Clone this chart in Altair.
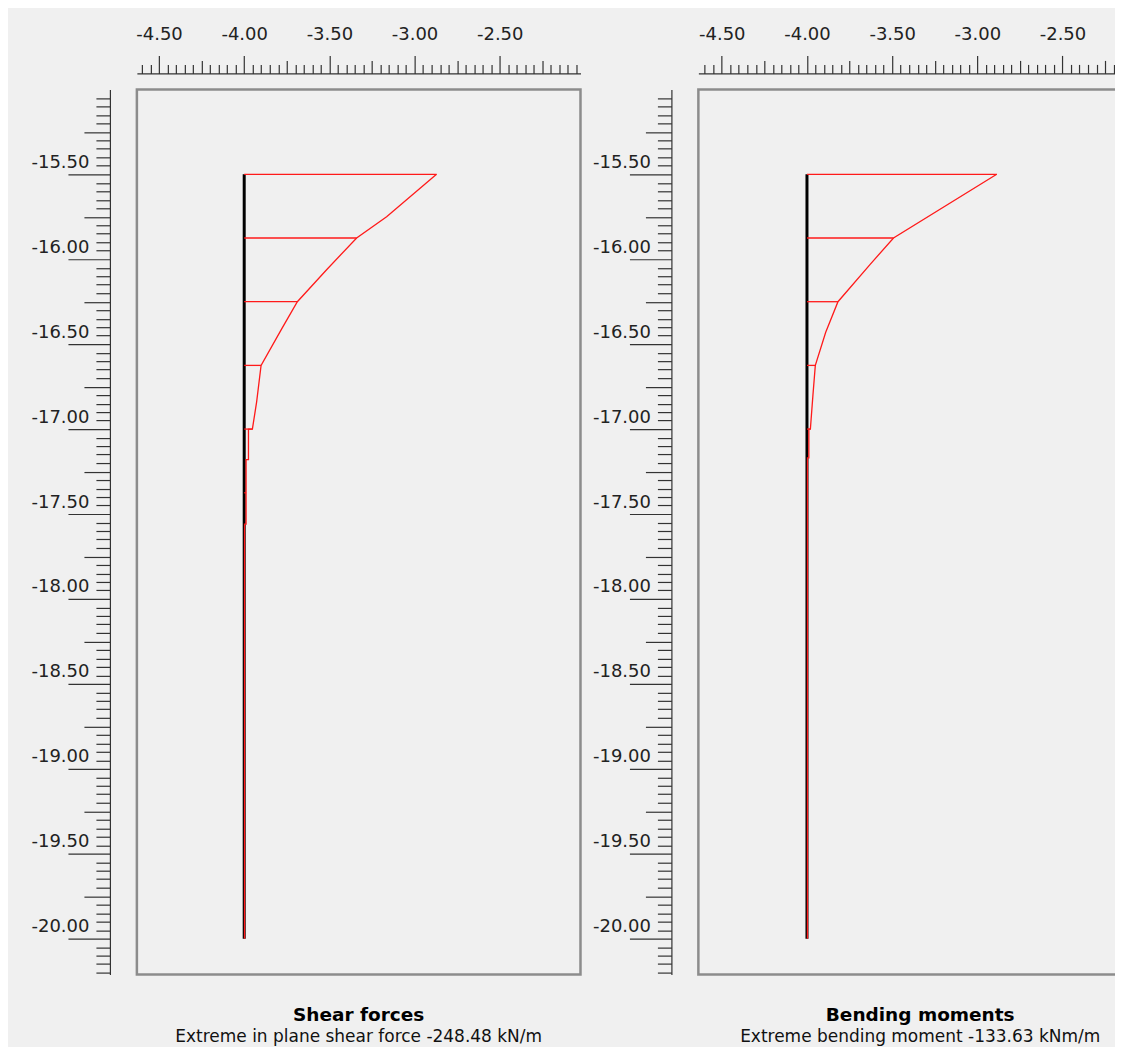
import altair as alt
import pandas as pd

# ---------------- data ----------------
# plate (structure) line
plate_x = [-4.00]
plate_top = [-15.50]
plate_bottom = [-20.00]

# Shear forces diagram (left panel)
shear_curve_y = [-15.50, -15.75, -15.875, -16.06, -16.25, -16.41, -16.625, -16.84, -17.00,
                 -17.00, -17.18, -17.18, -17.56, -17.56, -20.00]
shear_curve_x = [-2.871, -3.164, -3.340, -3.515, -3.688, -3.780, -3.901, -3.927, -3.952,
                 -3.975, -3.975, -3.989, -3.989, -3.998, -3.998]
shear_hatch_y = [-15.50, -15.875, -16.25, -16.625, -17.00, -17.375]
shear_hatch_x = [-2.871, -3.340, -3.688, -3.901, -3.952, -3.989]

# Bending moments diagram (right panel)
moment_curve_y = [-15.50, -15.875, -16.03, -16.25, -16.43, -16.625, -16.80, -17.00,
                  -17.00, -17.17, -17.17, -20.00]
moment_curve_x = [-2.886, -3.492, -3.629, -3.818, -3.890, -3.951, -3.965, -3.980,
                  -3.989, -3.989, -3.997, -3.997]
moment_hatch_y = [-15.50, -15.875, -16.25, -16.625, -17.00]
moment_hatch_x = [-2.886, -3.492, -3.818, -3.951, -3.980]

# axis rulers
x_ticks_left = [round(-4.60 + 0.05 * i, 2) for i in range(52)]    # -4.60 .. -2.05
x_ticks_right = [round(-4.60 + 0.05 * i, 2) for i in range(52)]   # -4.60 .. -2.05
y_ticks = [round(-15.05 - 0.05 * i, 2) for i in range(104)]       # -15.05 .. -20.20

titles = ["Shear forces", "Bending moments"]
subtitles = ["Extreme in plane shear force -248.48 kN/m",
             "Extreme bending moment -133.63  kNm/m"]

# ---------------- styling ----------------
FONT = "DejaVu Sans"
BG = "#f0f0f0"
MAJOR = "abs(round(datum.value*100)) % 50 == 0"
MEDIUM = "abs(round(datum.value*100)) % 25 == 0"
LABEL = ("%s ? (datum.value < 0 ? '-' : '') + format(abs(datum.value), '.2f') : ''" % MAJOR)

HEIGHT = 886
Y_DOMAIN = [-15.0 - HEIGHT / 170.0, -15.0]


def x_axis(values):
    return alt.Axis(
        orient="top", values=values, tickCount=500, offset=16, grid=False,
        domainColor="#333333", domainWidth=1.2,
        tickColor="#333333", tickWidth=1.2,
        tickSize={"condition": [{"test": MAJOR, "value": 18},
                                {"test": MEDIUM, "value": 13}], "value": 9},
        labelExpr=LABEL, labelFont=FONT, labelFontSize=18, labelColor="#222222",
        labelPadding=12, labelOverlap=False, labelFlush=False, labelBound=False,
        title=None,
    )


def y_axis():
    return alt.Axis(
        orient="left", values=y_ticks, tickCount=500, offset=27, grid=False,
        domainColor="#333333", domainWidth=1.2,
        tickColor="#333333", tickWidth=1.2,
        tickSize={"condition": [{"test": MAJOR, "value": 42},
                                {"test": MEDIUM, "value": 26}], "value": 14},
        labelExpr=LABEL, labelFont=FONT, labelFontSize=18, labelColor="#222222",
        labelAlign="right", labelBaseline="middle",
        labelPadding=-21, labelOffset=-12,
        labelOverlap=False, labelFlush=False, labelBound=False,
        title=None,
    )


def panel(cx, cy, hx, hy, xdom, xticks, title, subtitle, width, dx, toff):
    xs = alt.Scale(domain=xdom, nice=False, zero=False)
    ys = alt.Scale(domain=Y_DOMAIN, nice=False, zero=False)
    plate_df = pd.DataFrame({"x": plate_x, "y": plate_top, "y2": plate_bottom})
    curve_df = pd.DataFrame({"x": cx, "y": cy, "i": list(range(len(cx)))})
    hatch_df = pd.DataFrame({"x": [plate_x[0]] * len(hx), "x2": hx, "y": hy})

    plate = alt.Chart(plate_df).mark_rule(color="#000000", strokeWidth=3).encode(
        x=alt.X("x:Q", scale=xs, axis=x_axis(xticks), title=None),
        y=alt.Y("y:Q", scale=ys, axis=y_axis(), title=None),
        y2="y2:Q",
    )
    hatch = alt.Chart(hatch_df).mark_rule(color="#ff1a1a", strokeWidth=1.3).encode(
        x=alt.X("x:Q", scale=xs, title=None),
        x2="x2:Q",
        y=alt.Y("y:Q", scale=ys, title=None),
    )
    curve = alt.Chart(curve_df).mark_line(color="#ff1a1a", strokeWidth=1.3).encode(
        x=alt.X("x:Q", scale=xs, title=None),
        y=alt.Y("y:Q", scale=ys, title=None),
        order="i:Q",
    )
    return alt.layer(plate, hatch, curve).properties(
        width=width, height=HEIGHT,
        title=alt.TitleParams(
            text=title, subtitle=subtitle, orient="bottom", anchor="middle",
            font=FONT, fontSize=18.5, fontWeight="bold", color="#000000",
            subtitleFont=FONT, subtitleFontSize=17, subtitleColor="#111111",
            offset=toff, subtitlePadding=5, dx=dx,
        ),
    )


left = panel(shear_curve_x, shear_curve_y, shear_hatch_x, shear_hatch_y,
             [-4.63, -2.026], x_ticks_left, titles[0], subtitles[0], 444, 0, 31)
right = panel(moment_curve_x, moment_curve_y, moment_hatch_x, moment_hatch_y,
              [-4.6375, -2.0334], x_ticks_right, titles[1], subtitles[1], 444, 0, 31)

chart = alt.hconcat(left, right, spacing=8).properties(
    background=BG,
    padding={"left": 21, "top": 15, "right": -29, "bottom": 0},
).configure_view(stroke="#8c8c8c", strokeWidth=2.5, fill=BG)

chart.save("out.html", embed_options={"renderer": "svg", "actions": False})
